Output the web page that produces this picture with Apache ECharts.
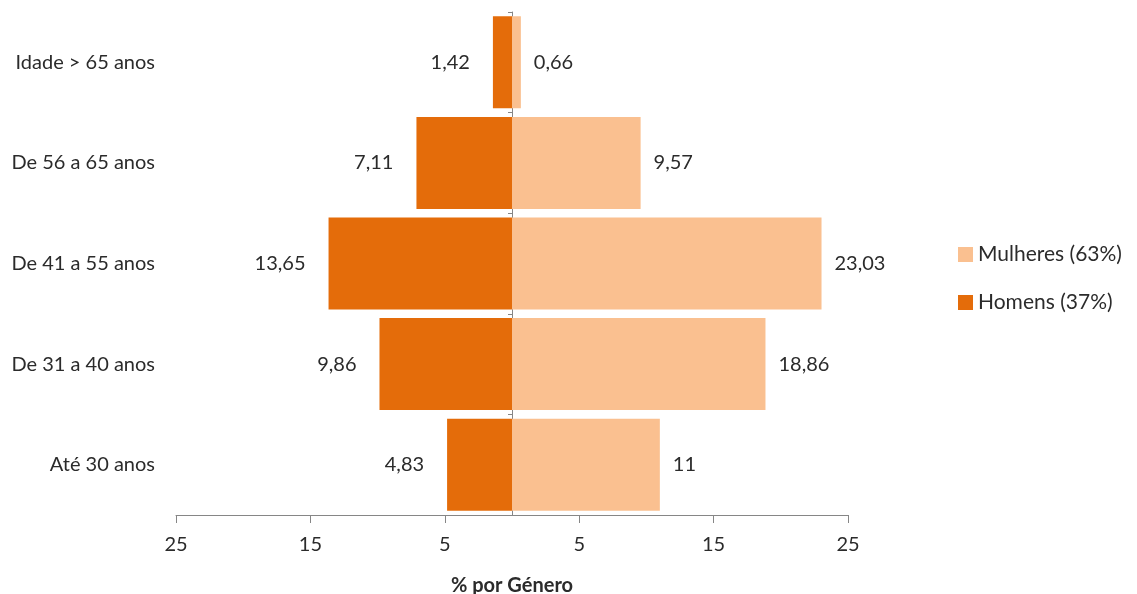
<!DOCTYPE html>
<html>
<head>
<meta charset="utf-8">
<script src="https://cdn.jsdelivr.net/npm/echarts@6/dist/echarts.min.js"></script>
<style>
  html, body { margin: 0; padding: 0; background: #fff; }
  #chart { width: 1137px; height: 594px; }
</style>
</head>
<body>
<div id="chart"></div>
<script>
// Age groups, listed bottom to top
const categories = ['Até 30 anos', 'De 31 a 40 anos', 'De 41 a 55 anos', 'De 56 a 65 anos', 'Idade > 65 anos'];
// Percentages by gender
const mulheres = [11, 18.86, 23.03, 9.57, 0.66];
const homens = [4.83, 9.86, 13.65, 7.11, 1.42];
// Values shown on the horizontal axis
const tickValues = [-25, -15, -5, 5, 15, 25];

const FONT = 'Lato, "Open Sans", sans-serif';
const TEXT = '#2b2b2b';
const AXIS = '#868686';
const fmt = v => {
  const a = Math.abs(v);
  return (Math.round(a * 100) / 100).toString().replace('.', ',');
};

const chart = echarts.init(document.getElementById('chart'), null, { renderer: 'canvas' });
chart.setOption({
  animation: false,
  textStyle: { fontFamily: FONT },
  grid: {
    left: 176, right: 289, top: 12, bottom: 79,
    containLabel: false, outerBoundsMode: 'none'
  },
  legend: {
    orient: 'vertical',
    left: 953,
    top: 239,
    itemWidth: 15,
    itemHeight: 15,
    itemGap: 27,
    icon: 'rect',
    data: ['Mulheres (63%)', 'Homens (37%)'],
    textStyle: { fontFamily: FONT, fontSize: 21, color: TEXT }
  },
  xAxis: {
    type: 'value',
    min: -25,
    max: 25,
    name: '% por Género',
    nameLocation: 'middle',
    nameGap: 61,
    nameTextStyle: { fontFamily: FONT, fontSize: 20, fontWeight: 'bold', color: TEXT },
    splitLine: { show: false },
    axisLine: { show: true, lineStyle: { color: AXIS, width: 1 } },
    axisTick: { show: true, length: 8, customValues: tickValues, lineStyle: { color: AXIS } },
    axisLabel: {
      customValues: tickValues,
      formatter: v => String(Math.abs(v)),
      fontFamily: FONT, fontSize: 20, color: TEXT, margin: 20
    }
  },
  yAxis: {
    type: 'category',
    data: categories,
    // the line and ticks sit on zero; the category labels stay at the plot's left edge
    axisLine: { show: true, onZero: true, lineStyle: { color: AXIS, width: 1 } },
    axisTick: { show: true, length: 4, lineStyle: { color: AXIS } },
    axisLabel: { fontFamily: FONT, fontSize: 20, color: TEXT, margin: 21 }
  },
  series: [
    {
      name: 'Mulheres (63%)',
      type: 'bar',
      data: mulheres,
      barCategoryGap: '8.5%',
      barGap: '-100%',
      itemStyle: { color: '#FAC090' },
      label: {
        show: true, position: 'right', distance: 13,
        formatter: p => fmt(p.value),
        fontFamily: FONT, fontSize: 20, color: TEXT
      }
    },
    {
      name: 'Homens (37%)',
      type: 'bar',
      data: homens.map(v => -v),
      barCategoryGap: '8.5%',
      barGap: '-100%',
      itemStyle: { color: '#E46C0A' },
      label: {
        show: true, position: 'left', distance: 23,
        formatter: p => fmt(p.value),
        fontFamily: FONT, fontSize: 20, color: TEXT
      }
    }
  ]
});
</script>
</body>
</html>
